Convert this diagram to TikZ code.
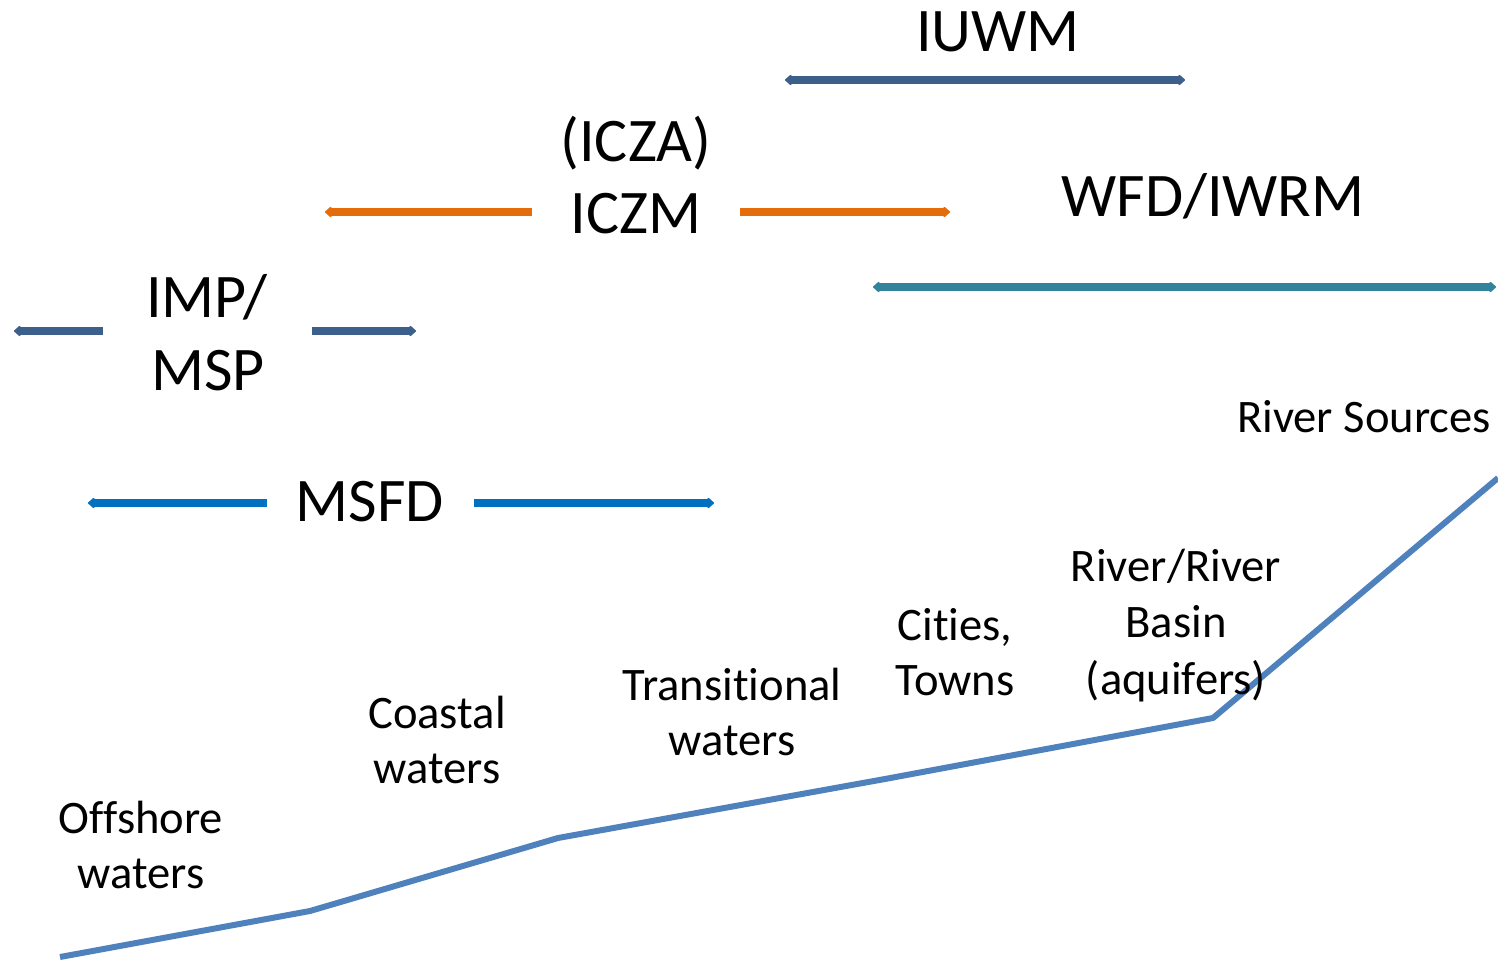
\documentclass[tikz,border=0pt]{standalone}
\usepackage{fontspec}
\setmainfont{Carlito}[Ligatures={NoCommon,NoContextual}]
\usetikzlibrary{arrows.meta}
\definecolor{cdark}{HTML}{3C5F8C}
\definecolor{corange}{HTML}{E46C0A}
\definecolor{cteal}{HTML}{31849B}
\definecolor{cmsfd}{HTML}{0070C0}
\definecolor{cline}{HTML}{4F81BD}
\tikzset{
  big/.style={font=\fontsize{31pt}{36.5pt}\selectfont, anchor=base, inner sep=0pt},
  small/.style={font=\fontsize{23.3pt}{27.5pt}\selectfont, anchor=base, inner sep=0pt},
  rng/.style={line width=3.7pt, -{Triangle[width=6pt,length=3.5pt,round]}},
  rngboth/.style={line width=3.7pt, {Triangle[width=6pt,length=3.5pt,round]}-{Triangle[width=6pt,length=3.5pt,round]}},
  profile/.style={cline, line width=3pt, line join=round}
}
\begin{document}
\begin{tikzpicture}[x=0.5pt,y=-0.5pt]
\useasboundingbox (0,0) rectangle (1498,961);
% IUWM
\node[big] (iuwm) at (998,52) {IUWM};
\coordinate (iuwmL) at (785,80);
\coordinate (iuwmR) at (1185,80);
\draw[rngboth, cdark] (iuwmL) -- (iuwmR);
% ICZA / ICZM
\node[big] (icza) at (636,162) {(ICZA)};
\node[big] (iczm) at (636,234) {ICZM};
\coordinate (iczmLa) at (532,212);
\coordinate (iczmLb) at (325,212);
\coordinate (iczmRa) at (740,212);
\coordinate (iczmRb) at (950,212);
\draw[rng, corange] (iczmLa) -- (iczmLb);
\draw[rng, corange] (iczmRa) -- (iczmRb);
% WFD/IWRM
\node[big] (wfd) at (1213,217) {WFD/IWRM};
\coordinate (wfdL) at (873,287);
\coordinate (wfdR) at (1496,287);
\draw[rngboth, cteal] (wfdL) -- (wfdR);
% IMP/MSP
\node[big] (imp) at (207,318) {IMP/};
\node[big] (msp) at (208,391) {MSP};
\coordinate (impLa) at (103,331);
\coordinate (impLb) at (14,331);
\coordinate (impRa) at (312,331);
\coordinate (impRb) at (416,331);
\draw[rng, cdark] (impLa) -- (impLb);
\draw[rng, cdark] (impRa) -- (impRb);
% MSFD
\node[big] (msfd) at (370,522) {MSFD};
\coordinate (msfdLa) at (267,503);
\coordinate (msfdLb) at (88,503);
\coordinate (msfdRa) at (474,503);
\coordinate (msfdRb) at (714,503);
\draw[rng, cmsfd] (msfdLa) -- (msfdLb);
\draw[rng, cmsfd] (msfdRa) -- (msfdRb);
% profile line
\coordinate (p1) at (60,957);
\coordinate (p2) at (310,911);
\coordinate (p3) at (558,838);
\coordinate (p4) at (885,779);
\coordinate (p5) at (1213,718);
\coordinate (p6) at (1498,478);
\draw[profile] (p1) -- (p2) -- (p3) -- (p4) -- (p5) -- (p6);
% zone labels
\node[small] (off1) at (141,833) {Offshore};
\node[small] (off2) at (141,888) {waters};
\node[small] (coa1) at (437,728) {Coastal};
\node[small] (coa2) at (437,783) {waters};
\node[small] (tra1) at (732,700) {Transitional};
\node[small] (tra2) at (732,755) {waters};
\node[small] (cit1) at (955,640) {Cities,};
\node[small] (cit2) at (955,695) {Towns};
\node[small] (riv1) at (1176,582) {River/River};
\node[small] (riv2) at (1176,638) {Basin};
\node[small] (riv3) at (1176,694) {(aquifers)};
\node[small] (src) at (1364,433) {River Sources};
\end{tikzpicture}
\end{document}
